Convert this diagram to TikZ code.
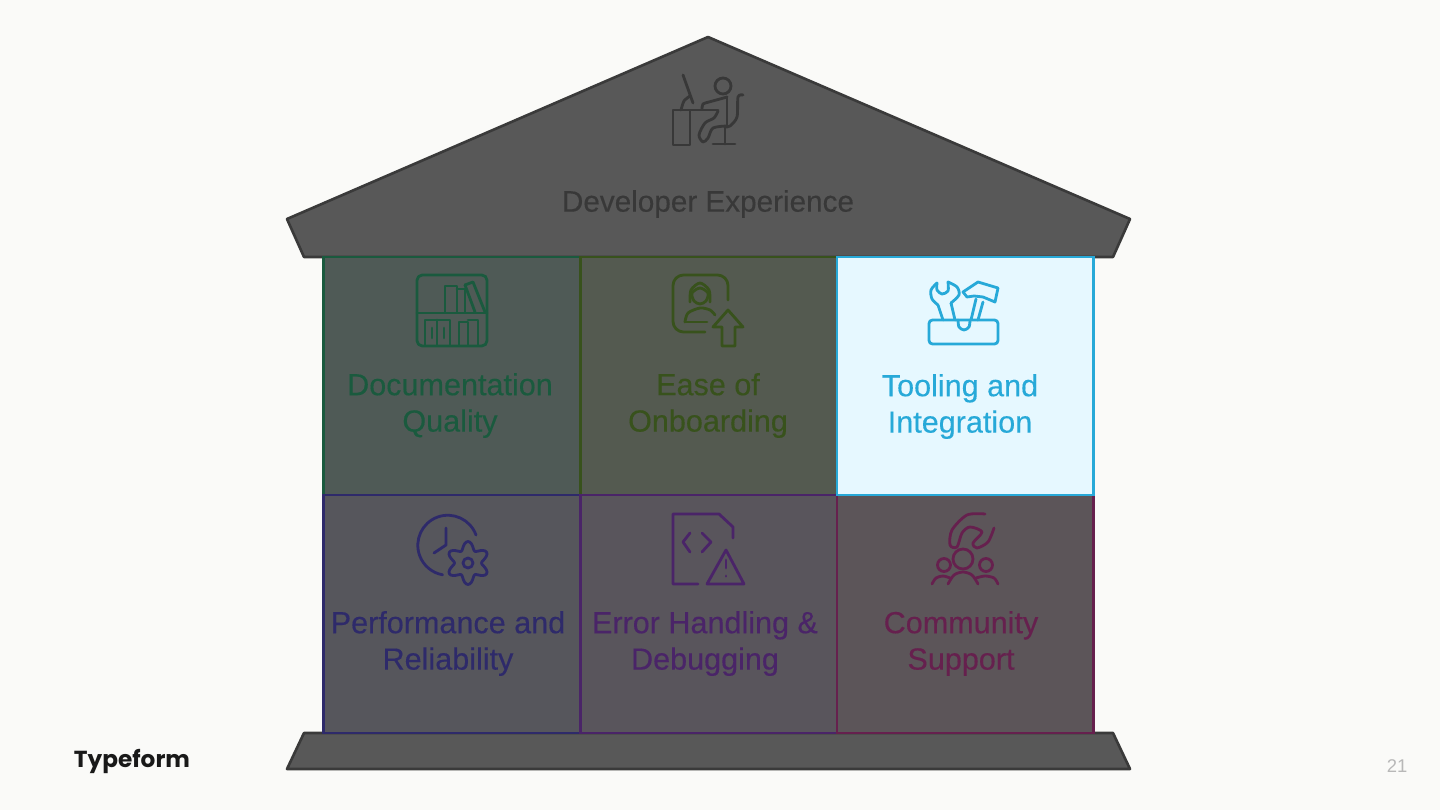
\documentclass[tikz,border=0pt]{standalone}
\usepackage{fontspec}
\setmainfont{Liberation Sans}
\newfontfamily\labelfont{Liberation Sans}[FakeBold=0.25]
\newfontfamily\logofont{Poppins}
\definecolor{pagecol}{HTML}{FAFAF8}
\definecolor{stonecol}{HTML}{585858}
\definecolor{stoneedge}{HTML}{3A3A3A}
\definecolor{titlecol}{HTML}{383838}
\definecolor{docfill}{HTML}{4F5A56}
\definecolor{docline}{HTML}{1A5A3E}
\definecolor{easefill}{HTML}{545A50}
\definecolor{easeline}{HTML}{38521C}
\definecolor{toolfill}{HTML}{E6F8FF}
\definecolor{toolline}{HTML}{27A9D8}
\definecolor{perffill}{HTML}{56565C}
\definecolor{perfline}{HTML}{2E2A6A}
\definecolor{errfill}{HTML}{59555C}
\definecolor{errline}{HTML}{4A2468}
\definecolor{commfill}{HTML}{5C5559}
\definecolor{commline}{HTML}{66204E}
\tikzset{
	bay/.style={rectangle,anchor=north west,minimum width=5.13cm,minimum height=4.76cm,inner sep=0pt,outer sep=0pt,line width=1.5pt},
	stone/.style={fill=stonecol,draw=stoneedge,line width=1.5pt,line join=round},
	label/.style={align=center,font=\labelfont\fontsize{17.4}{20.7}\selectfont,inner sep=0pt},
	icon/.style={line width=1.6pt,line cap=round,line join=round}
}
\begin{document}
\begin{tikzpicture}[x=0.02cm,y=-0.02cm]
		\useasboundingbox[fill=pagecol] (0,0) rectangle (1440,810);
		%Roof and Base
		\draw[stone] (708,37)--(1130,219)--(1113,257)--(304,257)--(287,219)--cycle;
		\draw[stone] (304,733)--(1113,733)--(1130,769)--(287,769)--cycle;
		%Bays of the House
		\foreach \name/\x/\y/\bayfill/\bayline in {doc/323.5/257/docfill/docline,ease/580.5/257/easefill/easeline,perf/323.5/495/perffill/perfline,err/580.5/495/errfill/errline,comm/837/495/commfill/commline,tool/837/257/toolfill/toolline}
		\node[bay,fill=\bayfill,draw=\bayline] (\name) at (\x,\y) {};
		%Labels
		\node[label,text=titlecol,font=\labelfont\fontsize{16.9}{20}\selectfont] (devlabel) at (708,204) {Developer Experience};
		\node[label,text=docline] (doclabel) at (450,405.5) {Documentation\\Quality};
		\node[label,text=easeline] (easelabel) at (708,405.5) {Ease of\\Onboarding};
		\node[label,text=toolline] (toollabel) at (960,406.5) {Tooling and\\Integration};
		\node[label,text=perfline] (perflabel) at (448,643.5) {Performance and\\Reliability};
		\node[label,text=errline] (errlabel) at (705,643.5) {Error Handling \&\\Debugging};
		\node[label,text=commline] (commlabel) at (961,643.5) {Community\\Support};
		\node[font=\logofont\bfseries\fontsize{13.2}{18}\selectfont,text=black!90,inner sep=0pt] (logo) at (132,761) {Typeform};
		\node[font=\fontsize{10.5}{12}\selectfont,text=black!28,inner sep=0pt] (pagenum) at (1397,766) {21};
		%Developer at the Desk
		\begin{scope}[icon,draw=titlecol]
		\draw (723,86) circle[radius=8];
		\draw (673,110)--(690,110)--(690,145)--(673,145)--cycle;
		\draw (683,75)--(693,103);
		\draw plot[smooth] coordinates {(681,110) (684,101) (690,96)};
		\draw (690,110)--(718,110);
		\draw plot[smooth] coordinates {(702,109) (703,104) (709,102) (720,99) (727,97)};
		\draw (727,97)--(727,126);
		\draw plot[smooth] coordinates {(718,111) (714,118) (705,123) (699,135) (703,142) (708,138) (713,128) (727,126)};
		\draw plot[smooth] coordinates {(743,95) (738,97) (737,117) (730,126) (725,127)};
		\draw (725,127)--(725,144);
		\draw (713,144)--(735,144);
		\end{scope}
		%Bookshelf
		\begin{scope}[icon,draw=docline]
		\draw[rounded corners=3pt] (417,275) rectangle (487,346);
		\draw (417,313)--(487,313);
		\draw (445,312)--(445,286)--(457,286)--(457,312);
		\draw (457,289)--(465,289)--(465,312);
		\draw (465,285)--(473,282)--(485,312);
		\draw (465,285)--(475,312);
		\draw (425,345)--(425,320)--(450,320)--(450,345);
		\draw (437,320)--(437,345);
		\draw (432,328)--(432,338);
		\draw (444,328)--(444,338);
		\draw (459,345)--(459,322)--(468,322)--(468,345);
		\draw (468,320)--(478,320)--(478,345);
		\end{scope}
		%Person with Arrow
		\begin{scope}[icon,draw=easeline]
		\draw[rounded corners=6pt] (728,300)--(728,275)--(673,275)--(673,332)--(705,332);
		\draw plot[smooth] coordinates {(690,302) (691,290) (700,283) (709,290) (710,302)};
		\draw plot[smooth cycle] coordinates {(692,293) (700,288) (708,293) (706,301) (700,304) (694,301)};
		\draw (707,322)--(685,322);
		\draw plot[smooth] coordinates {(685,322) (688,313) (700,308) (710,310) (715,315)};
		\draw (728,310)--(743,327)--(735,327)--(735,346)--(722,346)--(722,327)--(713,327)--cycle;
		\end{scope}
		%Clock with Gear
		\begin{scope}[icon,draw=perfline]
		\draw (476,535) arc[start angle=-20,end angle=-260,radius=30];
		\draw (446,528)--(446,545)--(434,553);
		\draw plot[smooth,domain=0:360,samples=73] ({468+(17.5-4*cos(6*\x))*cos(\x)},{563+(17.5-4*cos(6*\x))*sin(\x)});
		\draw (468,563) circle[radius=5];
		\end{scope}
		%File with Warning
		\begin{scope}[icon,draw=errline]
		\draw (698,584)--(673,584)--(673,514)--(719,514)--(733,527)--(733,538);
		\draw (690,533)--(683,542)--(690,552);
		\draw (702,533)--(711,542)--(702,552);
		\draw (726,550)--(744,584)--(707,584)--cycle;
		\draw (726,560)--(726,568);
		\draw (726,576)--(726,576.2);
		\end{scope}
		%Wrench and Hammer
		\begin{scope}[icon,draw=toolline]
		\draw[rounded corners=2pt] (929,320) rectangle (998,344);
		\draw plot[smooth] coordinates {(937,283) (931,290) (932,299) (938,305)};
		\draw (938,305)--(943,320);
		\draw plot[smooth] coordinates {(937,283) (937,290) (942,294) (948,291) (948,282)};
		\draw plot[smooth] coordinates {(948,282) (957,287) (959,295) (951,303)};
		\draw (951,303)--(955,320);
		\draw plot[smooth] coordinates {(958,320) (959,327) (964,330) (969,327) (970,320)};
		\draw (971,320)--(976,299);
		\draw (983,302)--(978,320);
		\draw (967,297)--(963,292)--(978,282)--(998,288)--(995,302)--(983,297)--(974,296)--cycle;
		\end{scope}
		%Hand over Community
		\begin{scope}[icon,draw=commline]
		\draw plot[smooth] coordinates {(985,514) (967,515) (952,530) (950,545) (957,547) (962,533) (970,527) (982,532) (973,543) (977,548) (988,542) (994,528)};
		\draw (963,559) circle[radius=10];
		\draw (944,565) circle[radius=6.5];
		\draw (986,565) circle[radius=6.5];
		\draw plot[smooth] coordinates {(932,584) (936,578) (943,576) (950,578)};
		\draw plot[smooth] coordinates {(948,584) (954,575) (963,572) (972,575) (978,584)};
		\draw plot[smooth] coordinates {(976,578) (985,576) (994,578) (998,584)};
		\end{scope}
\end{tikzpicture}
\end{document}
